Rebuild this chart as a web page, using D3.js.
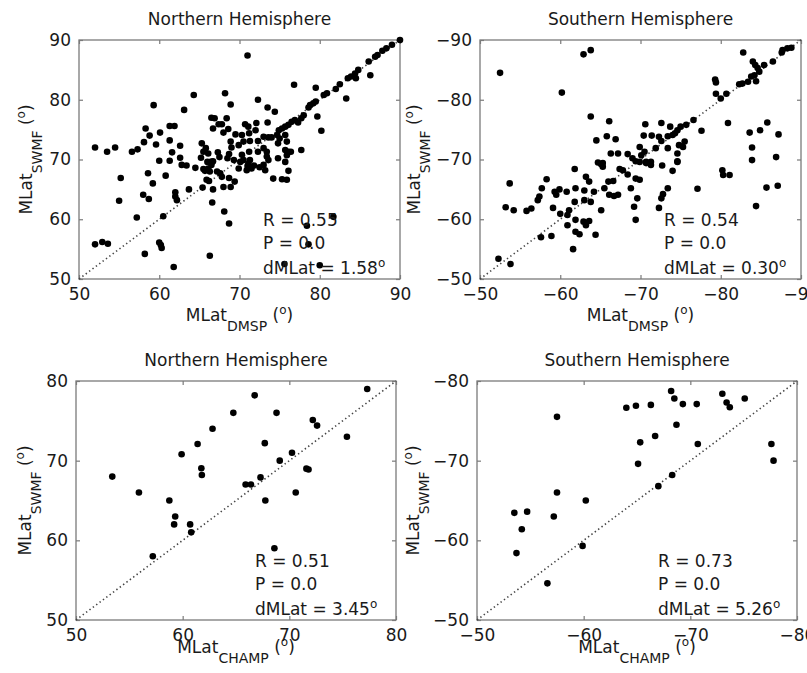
<!DOCTYPE html>
<html>
<head>
<meta charset="utf-8">
<script src="https://cdn.jsdelivr.net/npm/d3@7"></script>
<style>
  body { margin: 0; background: #fff; }
  text { font-family: "DejaVu Sans", sans-serif; fill: #1a1a1a; }
</style>
</head>
<body>
<div id="chart"></div>
<script>
// ---- DATA ----
// Northern Hemisphere, DMSP vs SWMF
var nhDmspX = [52.0,53.5,54.5,56.6,57.3,58.1,58.3,58.8,59.3,59.6,60.1,61.3,61.9,61.3,61.6,62.6,63.1,64.3,60.0,61.3,
  65.3,65.8,66.1,66.5,66.9,67.4,67.8,68.2,68.4,68.6,68.9,68.9,66.7,67.3,65.5,68.7,65.2,66.6,69.0,69.5,68.0,
  71.0,90.0,89.0,88.3,87.8,87.2,86.9,86.1,86.3,84.8,84.4,83.9,84.5,83.5,83.3,82.5,82.0,80.9,80.5,79.5,79.5,79.2,78.8,78.6,
  76.8,79.7,80.2,72.3,73.5,74.4,73.5,78.0,77.7,77.3,76.9,76.5,76.1,75.7,75.3,74.9,74.7,75.0,75.7,70.7,71.1,72.1,72.0,71.2,
  70.3,70.5,71.3,72.3,73.0,73.6,74.0,73.0,73.4,74.8,75.9,75.7,76.1,76.4,77.7,71.2,72.3,69.9,71.3,73.6,
  62.6,62.8,63.4,64.5,65.5,66.0,66.4,66.7,66.5,66.1,65.7,66.3,67.2,67.6,67.8,68.7,68.0,68.9,69.4,65.9,66.2,65.4,66.7,66.6,
  68.1,68.7,63.7,62.0,62.0,62.2,60.8,58.6,59.2,55.2,55.0,58.0,58.7,57.2,60.5,52.0,52.9,53.6,60.0,60.2,60.3,58.2,66.3,61.8,
  70.1,70.5,71.1,71.5,69.9,70.9,73.2,73.4,73.0,74.2,75.3,75.9,76.1,75.7,74.8,75.9,78.4,81.7,80.0,78.6,75.6,
  70.3,71.8,72.5,71.0,69.3,68.5,67.5];
var nhDmspY = [72.0,71.3,72.0,71.3,71.7,72.9,75.2,74.0,79.1,72.5,74.5,75.6,75.6,73.2,71.2,72.3,78.3,80.8,69.8,69.8,
  72.7,71.9,71.0,77.0,76.9,75.9,75.9,81.1,76.9,75.1,79.2,73.0,75.2,71.2,71.3,70.9,70.3,69.6,72.0,74.2,74.5,
  87.4,90.0,89.2,88.6,88.2,87.5,87.2,86.4,84.1,85.0,84.4,83.9,83.6,83.6,80.2,82.6,81.8,81.1,80.8,82.0,79.7,79.4,79.1,78.7,
  82.5,77.2,74.8,80.0,78.7,78.0,76.2,77.4,76.9,76.2,76.6,76.3,75.8,75.5,75.2,74.9,74.1,73.5,74.1,75.9,75.5,76.1,74.9,74.4,
  74.1,73.0,73.1,73.1,73.8,73.7,73.7,71.9,71.3,72.7,73.0,71.6,71.3,71.3,71.6,71.3,71.3,72.4,69.9,69.9,
  70.3,69.1,69.0,68.6,68.4,69.6,69.6,69.7,69.1,68.5,68.1,68.0,68.0,67.7,67.1,66.9,65.4,65.4,66.3,66.6,66.4,65.3,65.0,62.8,
  61.3,59.3,65.0,64.5,63.8,63.2,67.3,67.7,66.0,66.9,63.1,64.1,63.4,60.3,60.5,55.8,56.2,55.9,56.1,55.7,55.2,54.2,53.9,52.0,
  69.6,69.9,69.3,68.5,68.5,68.2,68.2,70.5,69.1,66.8,66.7,66.6,68.1,69.6,70.2,70.7,58.9,60.4,52.3,55.8,52.5,
  70.8,69.0,68.7,68.9,69.9,70.2,70.4];

// Southern Hemisphere, DMSP vs SWMF
var shDmspX = [-52.5,-62.9,-63.8,-60.2,-63.8,-66.1,-65.8,-66.9,-64.5,-70.5,-66.3,-67.2,-68.4,-64.7,-65.3,-69.0,-69.4,-70.1,
  -82.8,-87.7,-88.8,-88.3,-87.6,-86.5,-85.4,-84.0,-84.3,-84.6,-84.8,-84.2,-83.8,-83.4,-82.7,-82.3,-84.4,-79.3,-79.4,-79.4,
  -80.0,-80.7,-80.9,-77.6,-76.6,-75.7,-75.0,-74.6,-74.3,-74.0,-73.7,-72.6,-70.6,-71.4,-70.4,-72.3,-73.4,-72.6,-73.4,-74.8,
  -75.5,-75.3,-69.9,-71.9,-74.6,-74.6,-70.7,-71.3,-83.6,-84.9,-85.8,-87.2,-83.9,-86.9,-83.9,
  -53.7,-53.2,-54.2,-55.8,-56.4,-57.2,-57.4,-57.7,-58.3,-59.1,-59.5,-59.3,-59.9,-60.0,-60.9,-61.1,-60.9,-57.6,-58.9,-61.6,
  -61.8,-60.8,-61.9,-61.8,-61.9,-61.9,-62.4,-62.9,-63.6,-63.2,-64.4,-63.2,-63.6,-63.0,-63.0,-63.8,-64.2,-65.1,-65.3,-65.5,
  -65.1,-66.0,-66.6,-66.1,-66.7,-67.2,-67.4,-67.8,-68.4,-68.8,-69.2,-69.4,-69.6,-69.9,-69.4,-69.9,-52.3,-53.8,
  -71.3,-70.7,-72.7,-74.0,-74.6,-73.4,-72.8,-72.6,-72.3,-77.1,-80.2,-80.3,-81.1,-85.7,-87.1,-84.4];
var shDmspY = [-84.5,-87.6,-88.3,-81.2,-77.2,-76.4,-73.9,-73.4,-73.2,-71.3,-71.0,-71.0,-70.9,-69.5,-69.4,-70.2,-69.7,-70.7,
  -87.9,-88.3,-88.7,-88.6,-87.9,-86.4,-85.8,-86.4,-85.8,-85.3,-84.7,-84.1,-83.9,-83.0,-82.7,-82.6,-83.1,-83.4,-82.9,-81.0,
  -80.2,-81.0,-76.1,-74.8,-76.6,-75.8,-75.5,-74.9,-74.4,-74.1,-75.5,-76.1,-75.9,-74.0,-74.0,-73.8,-73.9,-73.1,-71.9,-72.4,
  -73.0,-72.1,-72.1,-71.9,-71.0,-69.6,-69.6,-69.6,-74.5,-74.9,-76.2,-74.2,-72.0,-70.4,-69.9,
  -66.0,-62.0,-61.5,-61.4,-61.8,-63.2,-63.8,-65.2,-66.7,-61.9,-64.1,-64.6,-65.0,-60.9,-60.7,-61.5,-59.0,-57.0,-57.2,-55.0,
  -68.4,-64.6,-65.2,-62.9,-59.9,-57.9,-57.5,-59.6,-59.7,-59.0,-57.4,-67.1,-66.3,-64.8,-63.2,-62.9,-64.6,-69.2,-68.8,-65.2,
  -61.5,-66.3,-66.4,-64.1,-63.9,-64.1,-68.4,-68.2,-67.5,-65.2,-62.1,-59.9,-63.5,-66.6,-66.8,-69.6,-53.4,-52.5,
  -69.1,-69.4,-69.0,-68.1,-69.7,-65.2,-64.2,-63.5,-61.9,-65.1,-68.2,-67.4,-67.4,-65.3,-65.6,-62.2];

// Northern Hemisphere, CHAMP vs SWMF
var nhChampX = [53.4,55.9,58.75,59.3,59.2,57.2,59.9,60.7,60.8,61.4,61.75,61.8,62.8,64.75,65.9,66.4,66.75,67.3,67.7,67.75,
  68.6,68.8,69.1,70.25,70.6,71.6,71.8,72.2,72.6,75.4,77.3];
var nhChampY = [68.0,66.0,65.0,63.0,62.0,58.0,70.8,62.0,61.0,72.1,69.05,68.2,74.0,76.0,67.0,67.0,78.2,67.9,72.2,65.0,
  59.0,76.0,70.0,71.0,66.0,69.0,68.9,75.1,74.4,73.0,79.0];

// Southern Hemisphere, CHAMP vs SWMF
var shChampX = [-53.5,-54.2,-53.7,-54.7,-56.6,-57.2,-57.5,-57.5,-59.9,-60.2,-64.0,-64.9,-65.3,-65.1,-66.3,-66.7,-67.0,
  -68.2,-68.3,-68.5,-68.7,-69.3,-70.6,-70.7,-73.0,-73.4,-73.7,-75.1,-77.6,-77.8];
var shChampY = [-63.45,-61.4,-58.4,-63.6,-54.6,-63.0,-75.5,-66.0,-59.3,-65.0,-76.65,-76.9,-72.3,-69.6,-77.0,-73.1,-66.8,
  -78.75,-68.2,-77.8,-74.5,-77.1,-77.1,-72.1,-78.4,-77.3,-76.7,-77.8,-72.1,-70.0];

var ticksNH90 = [50, 60, 70, 80, 90];
var ticksSH90 = [-50, -60, -70, -80, -90];
var ticksNH80 = [50, 60, 70, 80];
var ticksSH80 = [-50, -60, -70, -80];

var titles = ["Northern Hemisphere", "Southern Hemisphere", "Northern Hemisphere", "Southern Hemisphere"];
var xSubs = ["DMSP", "DMSP", "CHAMP", "CHAMP"];
var rValues = ["0.55", "0.54", "0.51", "0.73"];
var pValues = ["0.0", "0.0", "0.0", "0.0"];
var dMLatValues = ["1.58", "0.30", "3.45", "5.26"];

// ---- LAYOUT ----
var W = 807, H = 673;
var svg = d3.select("#chart").append("svg")
    .attr("width", W)
    .attr("height", H);

var panels = [
  { xs: nhDmspX, ys: nhDmspY, ticks: ticksNH90, l: 79, r: 400, t: 40, b: 279, ylab: -47, xlab: 42, sx: 184 },
  { xs: shDmspX, ys: shDmspY, ticks: ticksSH90, l: 480, r: 801, t: 40, b: 279, ylab: -60, xlab: 42, sx: 184 },
  { xs: nhChampX, ys: nhChampY, ticks: ticksNH80, l: 76, r: 396, t: 381, b: 620, ylab: -45, xlab: 33, sx: 179 },
  { xs: shChampX, ys: shChampY, ticks: ticksSH80, l: 477, r: 797, t: 381, b: 620, ylab: -58, xlab: 33, sx: 181 }
];

var boxColor = "#7a7a7a";

// label helper: main text + subscript + " (°)"
function labelTspans(t, main, sub) {
  t.append("tspan").text(main);
  t.append("tspan").attr("font-size", "14px").attr("dy", 10).text(sub);
  t.append("tspan").attr("dy", -10).text(" (");
  t.append("tspan").attr("font-size", "12px").attr("dy", -7).text("o");
  t.append("tspan").attr("dy", 7).text(")");
}

panels.forEach(function(p, i) {
  var dom = [p.ticks[0], p.ticks[p.ticks.length - 1]];
  var x = d3.scaleLinear().domain(dom).range([p.l, p.r]);
  var y = d3.scaleLinear().domain(dom).range([p.b, p.t]);
  var g = svg.append("g");

  // box
  g.append("rect")
      .attr("x", p.l).attr("y", p.t)
      .attr("width", p.r - p.l).attr("height", p.b - p.t)
      .attr("fill", "none")
      .attr("stroke", boxColor)
      .attr("stroke-width", 1.3);

  // axes (ticks point inward on all four sides)
  var fmt = d3.format("d");
  var bottom = g.append("g").attr("transform", "translate(0," + p.b + ")")
      .call(d3.axisBottom(x).tickValues(p.ticks).tickSizeInner(-4).tickSizeOuter(0).tickPadding(9).tickFormat(fmt));
  var left = g.append("g").attr("transform", "translate(" + p.l + ",0)")
      .call(d3.axisLeft(y).tickValues(p.ticks).tickSizeInner(-4).tickSizeOuter(0).tickPadding(8).tickFormat(fmt));
  var top = g.append("g").attr("transform", "translate(0," + p.t + ")")
      .call(d3.axisTop(x).tickValues(p.ticks).tickSizeInner(-4).tickSizeOuter(0).tickFormat(""));
  var right = g.append("g").attr("transform", "translate(" + p.r + ",0)")
      .call(d3.axisRight(y).tickValues(p.ticks).tickSizeInner(-4).tickSizeOuter(0).tickFormat(""));

  [bottom, left, top, right].forEach(function(a) {
    a.select(".domain").remove();
    a.selectAll("line").attr("stroke", boxColor).attr("stroke-width", 1.2);
    a.selectAll("text")
        .attr("font-family", "DejaVu Sans")
        .attr("font-size", "17px")
        .attr("fill", "#1a1a1a");
  });

  // 1:1 dotted line
  g.append("line")
      .attr("x1", x(dom[0])).attr("y1", y(dom[0]))
      .attr("x2", x(dom[1])).attr("y2", y(dom[1]))
      .attr("stroke", "#444")
      .attr("stroke-width", 1.6)
      .attr("stroke-dasharray", "1.4,2.8");

  // dots
  g.selectAll("circle")
      .data(p.xs.map(function(v, k) { return [v, p.ys[k]]; }))
      .enter().append("circle")
      .attr("cx", function(d) { return x(d[0]); })
      .attr("cy", function(d) { return y(d[1]); })
      .attr("r", 3.3)
      .attr("fill", "#000");

  // title
  g.append("text")
      .attr("x", (p.l + p.r) / 2)
      .attr("y", p.t - 15)
      .attr("text-anchor", "middle")
      .attr("font-size", "17px")
      .text(titles[i]);

  // x label
  var xl = g.append("text")
      .attr("x", (p.l + p.r) / 2)
      .attr("y", p.b + p.xlab)
      .attr("text-anchor", "middle")
      .attr("font-size", "17px");
  labelTspans(xl, "MLat", xSubs[i]);

  // y label
  var cx = p.l + p.ylab, cy = (p.t + p.b) / 2;
  var yl = g.append("text")
      .attr("x", cx)
      .attr("y", cy)
      .attr("transform", "rotate(-90," + cx + "," + cy + ")")
      .attr("text-anchor", "middle")
      .attr("font-size", "17px");
  labelTspans(yl, "MLat", "SWMF");

  // statistics
  var sx = p.l + p.sx;
  g.append("text").attr("x", sx).attr("y", p.b - 53).attr("font-size", "17px").text("R = " + rValues[i]);
  g.append("text").attr("x", sx).attr("y", p.b - 30).attr("font-size", "17px").text("P = " + pValues[i]);
  var dt = g.append("text").attr("x", sx).attr("y", p.b - 5).attr("font-size", "17px");
  dt.append("tspan").text("dMLat = " + dMLatValues[i]);
  dt.append("tspan").attr("font-size", "12px").attr("dy", -7).text("o");
});
</script>
</body>
</html>
